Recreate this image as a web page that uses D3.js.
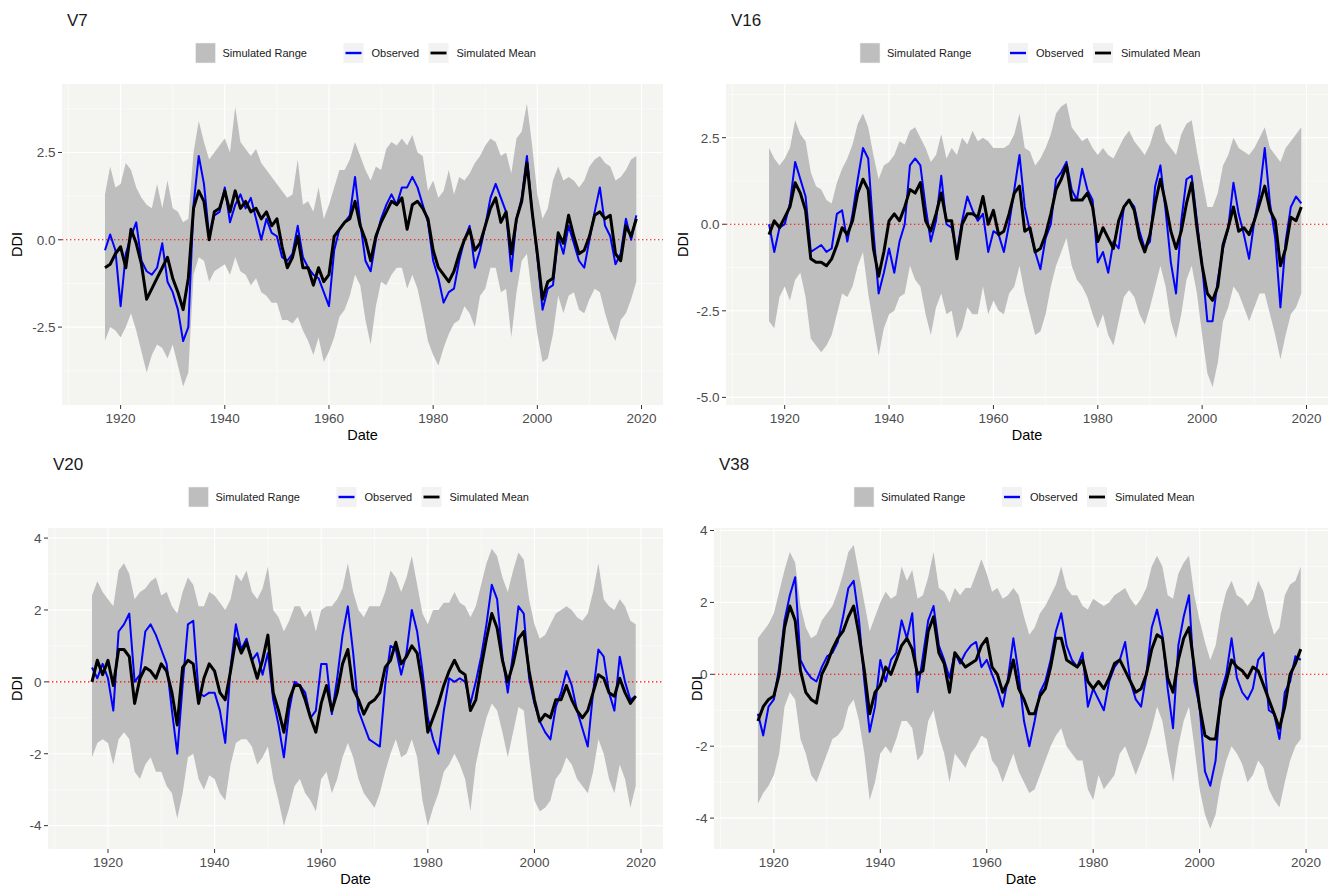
<!DOCTYPE html>
<html>
<head>
<meta charset="utf-8">
<style>
  body { margin: 0; background: #ffffff; }
  svg text { font-family: "Liberation Sans", Arial, sans-serif; }
</style>
</head>
<body>
<svg id="chart" width="1333" height="886"></svg>
<script src="https://d3js.org/d3.v7.min.js"></script>
<script>
// yearly values, 1917 .. 2019
var years = d3.range(1917, 2020);

var v7Mean = [-0.8,-0.7,-0.4,-0.2,-0.8,0.3,-0.1,-0.7,-1.7,-1.4,
  -1.1,-0.8,-0.5,-1.1,-1.5,-2.0,-1.1,0.9,1.4,1.1,
  0.0,0.8,0.9,1.4,0.8,1.4,0.9,1.1,0.8,0.9,
  0.6,0.8,0.4,0.6,-0.2,-0.8,-0.5,0.1,-0.8,-0.8,
  -1.3,-0.8,-1.2,-1.0,0.1,0.3,0.5,0.6,1.1,0.4,
  0.0,-0.6,0.1,0.5,0.8,1.1,1.0,1.2,0.3,1.0,
  1.1,0.9,0.6,-0.3,-0.8,-1.0,-1.2,-0.9,-0.4,0.0,
  0.3,-0.3,-0.1,0.4,0.9,1.2,0.5,0.8,-0.4,0.6,
  1.1,2.2,0.8,-0.4,-1.7,-1.2,-1.1,0.2,-0.1,0.7,
  0.1,-0.4,-0.3,0.1,0.7,0.8,0.6,0.7,-0.4,-0.6,
  0.4,0.1,0.6];
var v7Obs = [-0.3,0.15,-0.3,-1.9,-0.4,0.1,0.5,-0.6,-0.9,-1.0,
  -0.8,-0.1,-1.2,-1.5,-2.0,-2.9,-2.5,1.0,2.4,1.6,
  0.1,0.7,0.8,1.5,0.5,1.0,1.3,0.9,1.2,0.6,
  0.0,0.6,0.2,0.1,-0.5,-0.6,-0.4,0.4,-0.5,-0.8,
  -1.0,-1.1,-1.5,-1.9,-0.3,0.3,0.5,0.7,1.8,0.5,
  -0.6,-0.9,0.0,0.6,1.0,1.3,1.0,1.5,1.5,1.8,
  1.5,1.0,0.5,-0.6,-1.1,-1.8,-1.5,-1.4,-0.6,0.0,
  0.4,-0.8,-0.3,0.4,1.2,1.6,1.2,0.8,-0.9,0.6,
  1.2,2.4,0.8,-0.5,-2.0,-1.4,-1.3,0.1,-0.4,0.4,
  -0.1,-0.6,-0.8,0.0,0.8,1.5,0.4,0.1,-0.7,-0.4,
  0.6,0.0,0.7];
var v7Hi = [1.3,2.1,1.5,1.6,2.2,2.0,1.5,1.2,1.0,0.9,
  1.6,0.9,1.7,0.9,0.8,0.5,0.6,2.5,3.4,2.8,
  2.3,2.5,2.7,2.9,2.5,3.8,2.8,2.6,2.4,2.6,
  2.2,2.0,1.8,1.6,1.4,1.2,1.3,2.3,1.0,1.1,
  0.8,1.5,0.6,1.0,1.5,2.0,2.0,2.3,2.8,2.4,
  2.0,1.7,2.1,2.0,2.6,2.8,2.7,2.9,2.7,3.0,
  2.5,2.4,1.4,1.7,1.2,1.4,2.0,1.3,1.8,1.7,
  1.9,2.2,2.4,2.7,2.9,2.8,2.4,2.5,1.9,2.9,
  3.1,3.9,2.7,1.3,0.6,0.9,1.7,2.1,1.7,1.8,
  1.7,1.5,1.7,2.1,2.3,2.4,2.2,2.1,1.7,1.8,
  2.0,2.3,2.4];
var v7Lo = [-2.9,-2.5,-2.6,-2.8,-2.5,-2.1,-2.6,-3.2,-3.8,-3.3,
  -3.0,-3.1,-3.4,-3.0,-3.6,-4.2,-3.8,-1.0,-0.5,-0.6,
  -1.2,-0.9,-0.8,-0.7,-1.0,-0.5,-0.9,-1.0,-1.3,-1.1,
  -1.5,-1.6,-1.8,-1.8,-2.3,-2.3,-2.4,-2.2,-2.6,-2.9,
  -3.3,-2.8,-3.5,-3.2,-2.8,-2.2,-2.0,-1.6,-1.0,-1.3,
  -2.3,-3.0,-1.9,-1.2,-1.3,-1.0,-0.8,-0.8,-1.4,-1.0,
  -1.4,-2.1,-2.9,-3.3,-3.6,-3.1,-2.7,-2.4,-2.3,-1.9,
  -2.1,-2.5,-1.6,-1.4,-0.8,-0.8,-1.5,-1.4,-2.8,-1.5,
  -0.6,-0.4,-1.6,-2.7,-3.5,-3.4,-2.7,-1.6,-2.1,-1.6,
  -1.5,-2.0,-2.1,-1.7,-1.4,-1.5,-2.1,-2.6,-2.9,-2.3,
  -2.1,-1.7,-1.2];

var v16Mean = [-0.3,0.1,-0.1,0.2,0.5,1.2,0.9,0.4,-1.0,-1.1,
  -1.1,-1.2,-1.0,-0.6,-0.1,-0.3,0.1,0.9,1.3,1.0,
  -0.7,-1.5,-0.8,0.1,0.3,0.1,0.5,1.0,0.9,1.2,
  0.1,-0.2,0.3,0.9,0.1,0.1,-1.0,0.0,0.3,0.3,
  0.2,0.8,0.0,0.4,-0.3,-0.2,0.3,0.9,1.1,-0.2,
  -0.1,-0.8,-0.7,-0.3,0.3,1.0,1.3,1.7,0.7,0.7,
  0.7,0.9,0.5,-0.5,-0.1,-0.4,-0.7,0.1,0.5,0.7,
  0.4,-0.4,-0.8,-0.3,0.6,1.3,0.6,-0.2,-0.7,-0.2,
  0.6,1.2,-0.1,-1.2,-2.0,-2.2,-1.8,-0.6,-0.1,0.5,
  -0.2,-0.1,-0.3,0.1,0.6,1.1,0.4,0.1,-1.2,-0.7,
  0.2,0.1,0.5];
var v16Obs = [0.0,-0.8,-0.1,0.0,0.6,1.8,1.3,0.8,-0.8,-0.7,
  -0.6,-0.8,-0.7,0.3,0.4,-0.5,0.3,1.3,2.2,1.9,
  -0.2,-2.0,-1.4,-0.7,-1.4,-0.5,0.0,1.7,1.9,1.7,
  0.5,-0.5,0.1,1.4,0.0,-0.1,-0.8,0.1,0.8,0.4,
  0.1,0.3,-0.8,-0.2,-0.3,-0.8,0.0,1.0,2.0,0.5,
  -0.2,-0.8,-1.3,-0.4,0.0,1.3,1.5,1.8,1.0,0.7,
  1.6,1.0,0.7,-1.1,-0.8,-1.4,-0.5,-0.7,0.5,0.7,
  0.5,-0.2,-0.7,-0.5,1.1,1.7,0.4,-1.1,-2.0,0.1,
  1.3,1.4,0.1,-1.2,-2.8,-2.8,-1.6,-0.7,-0.1,1.2,
  0.3,-0.3,-1.0,0.1,0.9,2.2,0.6,-0.4,-2.4,-0.5,
  0.5,0.8,0.6];
var v16Hi = [2.2,1.9,1.7,1.9,2.2,3.0,2.6,2.4,1.5,1.1,
  1.0,0.7,0.6,1.2,1.6,1.9,2.3,2.9,3.2,2.8,
  2.0,1.3,1.7,1.8,2.0,2.4,2.3,2.7,2.8,2.5,
  2.2,1.8,2.0,2.6,1.9,2.2,2.0,2.5,2.3,2.7,
  2.4,2.5,2.4,2.2,2.2,2.2,2.3,2.6,3.2,2.2,
  2.1,1.7,1.9,2.2,2.6,3.2,3.4,3.5,2.8,2.6,
  2.4,2.5,2.2,2.0,2.2,2.0,1.9,2.2,2.5,2.7,
  2.4,2.2,2.0,2.3,2.8,2.9,2.4,2.2,2.0,2.6,
  2.9,3.0,2.1,1.3,0.5,0.5,0.9,1.7,2.0,2.5,
  2.2,2.1,2.0,2.2,2.5,2.8,2.2,2.0,1.8,2.2,
  2.4,2.6,2.8];
var v16Lo = [-2.8,-3.0,-2.1,-1.8,-2.2,-1.6,-1.4,-2.1,-3.3,-3.5,
  -3.7,-3.5,-3.2,-2.6,-2.0,-2.1,-1.8,-1.2,-0.8,-2.0,
  -2.9,-3.8,-3.0,-2.6,-2.5,-2.1,-2.0,-1.2,-1.6,-1.8,
  -2.6,-3.2,-2.4,-2.0,-2.6,-2.5,-3.3,-3.0,-2.4,-2.6,
  -2.6,-1.8,-2.6,-2.2,-2.5,-2.6,-2.0,-1.8,-1.2,-2.0,
  -2.6,-3.2,-3.1,-2.6,-1.8,-1.2,-0.8,-0.4,-1.2,-1.6,
  -1.8,-2.1,-2.6,-3.0,-2.6,-3.2,-3.5,-2.8,-2.1,-1.9,
  -2.1,-2.6,-2.9,-2.4,-1.8,-1.2,-1.8,-2.8,-3.3,-2.6,
  -1.6,-1.2,-2.0,-3.2,-4.3,-4.7,-4.0,-2.8,-2.4,-1.8,
  -2.0,-2.4,-2.8,-2.4,-2.0,-2.0,-2.6,-3.2,-3.9,-3.2,
  -2.6,-2.4,-2.0];

var v20Mean = [0.0,0.6,0.2,0.6,-0.1,0.9,0.9,0.7,-0.6,0.1,
  0.4,0.3,0.1,0.5,0.3,-0.3,-1.2,0.4,0.6,0.5,
  -0.6,0.1,0.5,0.3,-0.3,-0.5,0.3,1.2,0.8,1.1,
  0.6,0.1,0.6,1.3,-0.3,-0.8,-1.4,-0.5,-0.1,-0.1,
  -0.5,-1.0,-1.4,-0.6,-0.1,-0.8,-0.3,0.5,0.9,-0.2,
  -0.5,-0.9,-0.6,-0.5,-0.3,0.4,0.6,1.1,0.5,0.7,
  1.0,0.8,-0.1,-1.4,-1.0,-0.6,-0.1,0.3,0.6,0.3,
  0.2,-0.8,-0.5,0.4,1.2,1.9,1.5,0.6,0.0,0.5,
  1.2,1.4,0.3,-0.5,-1.1,-0.9,-1.0,-0.5,-0.5,-0.1,
  -0.5,-0.8,-1.0,-0.8,-0.3,0.2,0.1,-0.3,-0.4,0.1,
  -0.3,-0.6,-0.4];
var v20Obs = [0.4,0.1,0.5,0.1,-0.8,1.4,1.6,1.9,0.0,0.2,
  1.4,1.6,1.3,0.9,0.5,-0.8,-2.0,-0.1,1.6,1.7,
  -0.3,-0.4,-0.3,-0.3,-0.8,-1.7,0.4,1.6,0.9,1.2,
  0.6,0.8,0.2,0.8,-0.5,-1.2,-2.1,-0.8,0.0,-0.1,
  -0.3,-1.0,-0.8,0.5,0.5,-0.9,0.1,1.3,2.1,0.8,
  -0.8,-1.2,-1.6,-1.7,-1.8,-0.1,1.0,0.9,0.2,0.8,
  2.0,1.4,0.3,-1.0,-1.6,-2.0,-0.8,0.1,0.0,0.1,
  0.0,-0.6,0.0,0.7,1.6,2.7,2.3,0.7,-0.3,0.8,
  2.1,1.9,0.1,-0.6,-1.1,-1.4,-1.6,-0.7,-0.3,0.3,
  -0.1,-0.8,-1.3,-1.8,-0.3,0.9,0.7,-0.3,-0.8,0.7,
  0.0,-0.5,-0.4];
var v20Hi = [2.4,2.8,2.5,2.3,2.1,3.1,3.3,3.0,2.3,2.5,
  2.6,2.8,2.9,2.4,2.5,2.1,1.9,2.5,2.9,2.7,
  2.1,2.1,2.5,2.4,2.2,2.0,2.3,3.0,2.8,3.1,
  2.5,2.3,2.6,3.2,2.0,1.8,1.4,1.7,2.1,2.1,
  1.8,2.0,1.4,2.0,2.1,2.1,2.3,2.6,3.3,2.5,
  2.0,1.8,2.1,2.1,2.1,2.5,3.1,2.9,2.5,2.9,
  3.5,2.7,1.9,1.6,2.0,2.0,2.2,2.2,2.5,2.2,
  2.1,1.8,2.1,2.7,3.3,3.7,3.5,2.9,2.5,3.1,
  3.6,3.4,2.3,1.6,1.2,1.3,1.6,1.9,2.0,2.1,
  2.0,1.8,1.7,1.9,2.5,3.3,2.3,2.1,2.0,2.3,
  2.1,1.7,1.6];
var v20Lo = [-2.1,-1.7,-1.6,-1.7,-2.3,-1.6,-1.4,-1.6,-2.5,-2.7,
  -2.3,-2.1,-2.5,-2.5,-2.9,-3.1,-3.8,-3.1,-2.1,-2.0,
  -2.7,-3.0,-2.6,-2.7,-3.1,-3.3,-2.3,-1.7,-1.6,-1.6,
  -1.8,-2.3,-2.1,-1.8,-2.7,-3.3,-4.0,-3.5,-2.9,-2.7,
  -3.1,-3.3,-3.6,-2.7,-2.5,-3.1,-2.7,-2.1,-1.7,-2.1,
  -2.7,-3.1,-3.3,-3.5,-3.1,-2.5,-2.0,-1.6,-2.1,-2.0,
  -1.6,-2.1,-3.3,-4.0,-3.5,-3.1,-2.5,-2.3,-2.0,-2.3,
  -2.7,-3.6,-2.3,-1.6,-1.0,-0.6,-0.8,-1.4,-2.1,-1.4,
  -0.7,-0.8,-2.1,-3.3,-3.6,-3.5,-3.3,-2.7,-2.5,-2.1,
  -2.3,-2.7,-2.9,-3.1,-2.5,-1.6,-2.0,-2.7,-3.1,-2.3,
  -2.7,-3.5,-2.9];

var v38Mean = [-1.3,-0.9,-0.7,-0.6,0.0,1.3,1.9,1.5,0.1,-0.5,
  -0.7,-0.8,0.0,0.3,0.7,1.0,1.2,1.6,1.9,1.1,
  0.1,-1.1,-0.5,-0.3,0.2,0.0,0.4,0.8,1.0,0.7,
  0.0,0.1,1.2,1.6,0.6,0.3,-0.5,0.6,0.4,0.2,
  0.3,0.4,0.8,1.0,0.2,0.0,-0.5,-0.2,0.4,-0.4,
  -0.7,-1.1,-1.1,-0.6,-0.4,0.2,1.0,1.0,0.4,0.3,
  0.2,0.4,-0.2,-0.4,-0.2,-0.4,-0.1,0.3,0.4,0.1,
  -0.2,-0.5,-0.4,0.0,0.7,1.1,1.0,-0.1,-0.5,0.4,
  1.0,1.3,0.2,-0.9,-1.7,-1.8,-1.8,-0.7,-0.2,0.4,
  0.2,0.1,-0.1,0.2,0.1,-0.3,-0.7,-1.1,-1.5,-0.9,
  0.0,0.3,0.7];
var v38Obs = [-1.1,-1.7,-0.9,-0.7,0.2,1.5,2.2,2.7,0.4,0.1,
  -0.1,-0.2,0.2,0.5,0.6,0.9,1.6,2.4,2.6,1.5,
  -0.2,-1.6,-0.9,0.4,-0.2,0.4,0.6,1.5,1.0,1.7,
  -0.5,0.5,1.5,1.9,0.8,0.4,-0.1,0.6,0.3,0.6,
  0.8,0.9,0.2,0.4,0.0,-0.4,-0.9,-0.1,1.0,0.0,
  -1.3,-2.0,-1.3,-0.5,-0.2,0.4,1.2,1.7,0.8,0.4,
  0.2,0.6,-0.9,-0.4,-0.7,-1.0,-0.2,0.2,0.4,0.9,
  -0.2,-0.7,-0.9,0.0,1.3,1.8,1.1,-0.4,-1.5,0.8,
  1.6,2.2,-0.2,-0.9,-2.7,-3.1,-2.4,-0.5,0.0,1.0,
  -0.1,-0.5,-0.7,-0.4,0.4,0.6,-1.0,-1.1,-1.8,-0.5,
  -0.2,0.5,0.4];
var v38Hi = [1.0,1.2,1.4,1.7,2.3,2.9,3.4,3.1,1.9,1.3,
  1.0,1.1,1.5,1.7,1.9,2.3,2.8,3.4,3.6,2.8,
  2.0,1.2,1.6,2.0,2.3,2.1,2.2,3.0,2.6,2.9,
  2.1,2.2,2.7,3.4,2.4,2.3,2.0,2.4,2.2,2.4,
  2.4,2.8,3.2,2.8,2.3,2.4,2.1,2.2,2.4,2.2,
  1.6,1.1,1.3,1.7,1.9,2.2,2.5,3.0,2.4,2.2,
  2.2,1.9,1.8,2.1,2.0,1.9,2.0,2.2,2.3,2.4,
  2.1,1.9,2.1,2.4,3.0,3.3,3.0,2.2,2.1,2.8,
  3.1,3.3,2.2,1.5,0.9,0.4,0.8,1.7,2.3,2.6,
  2.2,2.1,1.9,2.1,2.6,2.3,1.6,1.1,1.3,2.2,
  2.5,2.6,3.0];
var v38Lo = [-3.6,-3.3,-3.1,-2.8,-2.2,-0.9,-0.5,-0.7,-1.8,-2.2,
  -2.8,-3.0,-2.6,-2.2,-1.8,-1.7,-1.5,-0.9,-0.7,-1.3,
  -2.2,-3.5,-3.0,-2.2,-2.0,-2.2,-1.8,-1.3,-1.3,-1.5,
  -2.4,-2.2,-1.3,-1.0,-1.7,-2.2,-3.0,-2.2,-2.4,-2.6,
  -2.2,-2.0,-1.7,-1.8,-2.4,-2.6,-3.0,-2.6,-2.2,-2.7,
  -3.0,-3.3,-3.2,-2.8,-2.4,-2.0,-1.7,-1.5,-2.0,-2.2,
  -2.4,-2.4,-3.2,-3.5,-2.8,-3.2,-3.0,-2.8,-2.2,-2.0,
  -2.4,-2.8,-2.4,-2.0,-1.5,-0.9,-1.3,-2.2,-3.0,-2.0,
  -1.3,-0.9,-2.0,-3.2,-3.9,-4.3,-3.9,-3.0,-2.4,-2.0,
  -2.2,-2.5,-3.0,-2.8,-2.4,-2.6,-3.2,-3.5,-3.7,-3.0,
  -2.4,-2.0,-1.8];

var xTicks = [1920, 1940, 1960, 1980, 2000, 2020];
var v7Ticks = [-2.5, 0, 2.5];
var v16Ticks = [-5, -2.5, 0, 2.5];
var v20Ticks = [-4, -2, 0, 2, 4];
var v38Ticks = [-4, -2, 0, 2, 4];
var legendLabels = ["Simulated Range", "Observed", "Simulated Mean"];

var panels = [
  {title: "V7", mean: v7Mean, obs: v7Obs, lo: v7Lo, hi: v7Hi, ticks: v7Ticks, dec: 1,
   yDomain: [-4.73, 4.46], left: 62, right: 663, top: 84, bottom: 405, ddiX: 22},
  {title: "V16", mean: v16Mean, obs: v16Obs, lo: v16Lo, hi: v16Hi, ticks: v16Ticks, dec: 1,
   yDomain: [-5.22, 4.05], left: 726, right: 1328, top: 84, bottom: 405, ddiX: 688},
  {title: "V20", mean: v20Mean, obs: v20Obs, lo: v20Lo, hi: v20Hi, ticks: v20Ticks, dec: 0,
   yDomain: [-4.65, 4.28], left: 48, right: 663, top: 528, bottom: 849, ddiX: 22},
  {title: "V38", mean: v38Mean, obs: v38Obs, lo: v38Lo, hi: v38Hi, ticks: v38Ticks, dec: 0,
   yDomain: [-4.86, 4.07], left: 714, right: 1328, top: 528, bottom: 849, ddiX: 702}
];

var svg = d3.select("#chart");
var xDomain = [1908.75, 2024.12];

function minorsOf(ticks, domain) {
  var step = ticks[1] - ticks[0], out = [];
  for (var k = Math.floor(domain[0] / step) - 1; k <= Math.ceil(domain[1] / step); k++) {
    var v = (k + 0.5) * step;
    if (v > domain[0] && v < domain[1]) out.push(v);
  }
  return out;
}

panels.forEach(function(p, i) {
  var x = d3.scaleLinear().domain(xDomain).range([p.left, p.right]);
  var y = d3.scaleLinear().domain(p.yDomain).range([p.bottom, p.top]);
  var g = svg.append("g");
  var clipId = "clip" + i;

  g.append("clipPath").attr("id", clipId).append("rect")
    .attr("x", p.left).attr("y", p.top)
    .attr("width", p.right - p.left).attr("height", p.bottom - p.top);

  g.append("rect")
    .attr("x", p.left).attr("y", p.top)
    .attr("width", p.right - p.left).attr("height", p.bottom - p.top)
    .attr("fill", "#f4f4f0");

  // grid
  var grid = g.append("g").attr("clip-path", "url(#" + clipId + ")");
  grid.selectAll(".ymin").data(minorsOf(p.ticks, p.yDomain)).enter().append("line")
    .attr("x1", p.left).attr("x2", p.right)
    .attr("y1", d => y(d)).attr("y2", d => y(d))
    .attr("stroke", "#fff").attr("stroke-width", 0.55);
  grid.selectAll(".xmin").data(minorsOf(xTicks, xDomain)).enter().append("line")
    .attr("y1", p.top).attr("y2", p.bottom)
    .attr("x1", d => x(d)).attr("x2", d => x(d))
    .attr("stroke", "#fff").attr("stroke-width", 0.55);
  grid.selectAll(".ymaj").data(p.ticks).enter().append("line")
    .attr("x1", p.left).attr("x2", p.right)
    .attr("y1", d => y(d)).attr("y2", d => y(d))
    .attr("stroke", "#fff").attr("stroke-width", 1.1);
  grid.selectAll(".xmaj").data(xTicks).enter().append("line")
    .attr("y1", p.top).attr("y2", p.bottom)
    .attr("x1", d => x(d)).attr("x2", d => x(d))
    .attr("stroke", "#fff").attr("stroke-width", 1.1);

  var plot = g.append("g").attr("clip-path", "url(#" + clipId + ")");
  var rows = years.map(function(yr, j) {
    return {yr: yr, lo: p.lo[j], hi: p.hi[j], obs: p.obs[j], mean: p.mean[j]};
  });

  plot.append("path").datum(rows)
    .attr("fill", "#bebebe")
    .attr("d", d3.area().x(d => x(d.yr)).y0(d => y(d.lo)).y1(d => y(d.hi)));

  plot.append("line")
    .attr("x1", p.left).attr("x2", p.right)
    .attr("y1", y(0)).attr("y2", y(0))
    .attr("stroke", "red").attr("stroke-width", 1.1)
    .attr("stroke-dasharray", "1.4,2.6");

  plot.append("path").datum(rows)
    .attr("fill", "none").attr("stroke", "#0000ff").attr("stroke-width", 2)
    .attr("stroke-linejoin", "round")
    .attr("d", d3.line().x(d => x(d.yr)).y(d => y(d.obs)));

  plot.append("path").datum(rows)
    .attr("fill", "none").attr("stroke", "#000").attr("stroke-width", 3)
    .attr("stroke-linejoin", "round")
    .attr("d", d3.line().x(d => x(d.yr)).y(d => y(d.mean)));

  // y axis
  var ya = g.append("g");
  ya.selectAll("line").data(p.ticks).enter().append("line")
    .attr("x1", p.left - 4).attr("x2", p.left)
    .attr("y1", d => y(d)).attr("y2", d => y(d))
    .attr("stroke", "#333").attr("stroke-width", 1);
  ya.selectAll("text").data(p.ticks).enter().append("text")
    .attr("x", p.left - 6.5).attr("y", d => y(d)).attr("dy", "0.36em")
    .attr("text-anchor", "end").attr("font-size", "13.5px").attr("fill", "#4d4d4d")
    .text(d => d.toFixed(p.dec));

  // x axis
  var xa = g.append("g");
  xa.selectAll("line").data(xTicks).enter().append("line")
    .attr("x1", d => x(d)).attr("x2", d => x(d))
    .attr("y1", p.bottom).attr("y2", p.bottom + 4)
    .attr("stroke", "#333").attr("stroke-width", 1);
  xa.selectAll("text").data(xTicks).enter().append("text")
    .attr("x", d => x(d)).attr("y", p.bottom + 17.5)
    .attr("text-anchor", "middle").attr("font-size", "13.5px").attr("fill", "#4d4d4d")
    .text(d => d);

  g.append("text")
    .attr("x", (p.left + p.right) / 2).attr("y", p.bottom + 35)
    .attr("text-anchor", "middle").attr("font-size", "14.5px").attr("fill", "#000")
    .text("Date");
  g.append("text")
    .attr("transform", "translate(" + p.ddiX + "," + ((p.top + p.bottom) / 2) + ") rotate(-90)")
    .attr("text-anchor", "middle").attr("font-size", "14.5px").attr("fill", "#000")
    .text("DDI");

  // title
  g.append("text")
    .attr("x", p.left + 5).attr("y", p.top - 58)
    .attr("font-size", "17px").attr("fill", "#1a1a1a")
    .text(p.title);

  // legend
  var L = (p.left + p.right) / 2 - 167, ky = p.top - 41;
  var lg = g.append("g").attr("font-size", "11px").attr("fill", "#1a1a1a");
  lg.append("rect").attr("x", L).attr("y", ky).attr("width", 20).attr("height", 20)
    .attr("fill", "#bebebe").attr("stroke", "#f2f2f2").attr("stroke-width", 0.6);
  lg.append("text").attr("x", L + 27).attr("y", ky + 14).text(legendLabels[0]);
  var keys = [{off: 148, color: "#0000ff", label: legendLabels[1], w: 2.4},
              {off: 233, color: "#000", label: legendLabels[2], w: 2.8}];
  keys.forEach(function(k) {
    lg.append("rect").attr("x", L + k.off).attr("y", ky).attr("width", 20).attr("height", 20)
      .attr("fill", "#f2f2f2");
    lg.append("line").attr("x1", L + k.off + 2).attr("x2", L + k.off + 18)
      .attr("y1", ky + 10).attr("y2", ky + 10)
      .attr("stroke", k.color).attr("stroke-width", k.w);
    lg.append("text").attr("x", L + k.off + 28).attr("y", ky + 14).text(k.label);
  });
});
</script>
</body>
</html>
